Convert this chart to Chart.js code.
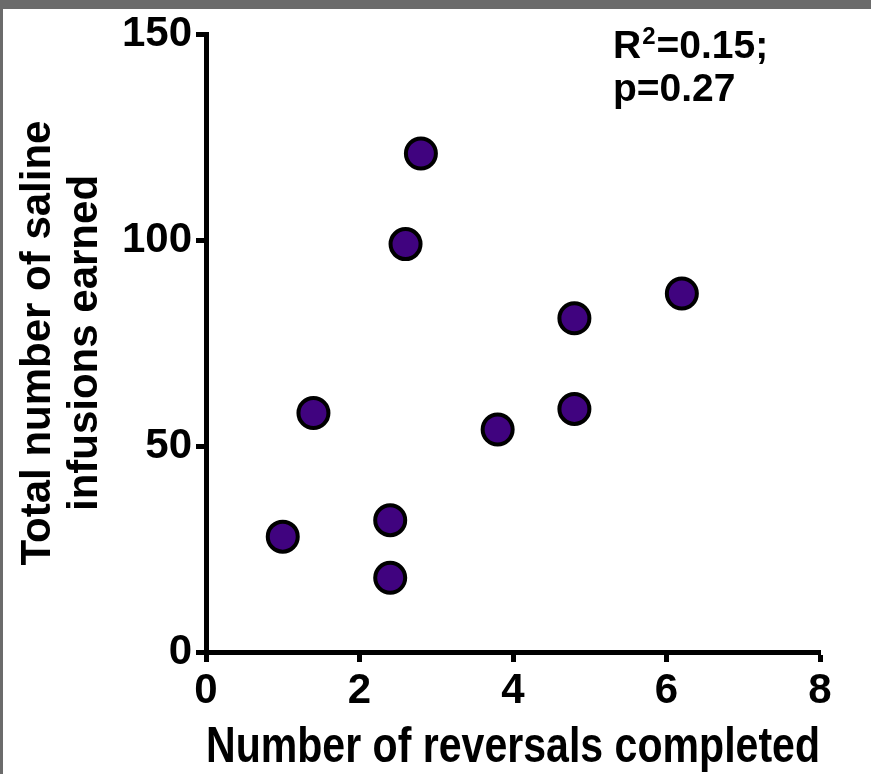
<!DOCTYPE html>
<html>
<head>
<meta charset="utf-8">
<script src="https://cdn.jsdelivr.net/npm/chart.js@4.4.1/dist/chart.umd.min.js"></script>
<style>
  html, body { margin: 0; padding: 0; background: #fff; }
  .frame { width: 868px; height: 765px; border-top: 9px solid #6b6b6b; border-left: 3px solid #6b6b6b; }
  .frame canvas { display: block; }
</style>
</head>
<body>
<div class="frame"><canvas id="scatter" width="868" height="765"></canvas></div>
<script>
// values
const reversals = [1.0, 1.4, 2.4, 2.4, 2.6, 2.8, 3.8, 4.8, 4.8, 6.2];
const infusions = [28, 58, 32, 18, 99, 121, 54, 81, 59, 87];
const xRange = [0, 8];
const yRange = [0, 150];
const xStep = 2;
const yStep = 50;
const xTitle = 'Number of reversals completed';
const yTitle = ['Total number of saline', 'infusions earned'];
const statR2 = '0.15';
const statP = '0.27';

const narrow = '"Liberation Sans Narrow", "Liberation Sans", Arial, sans-serif';
const wide = '"Liberation Sans", Arial, sans-serif';

// R^2 / p text in the top right corner
const statsLabel = {
  id: 'statsLabel',
  afterDraw(chart) {
    const ctx = chart.ctx;
    const x0 = chart.chartArea.right - 207;
    const y0 = chart.chartArea.top + 24;
    ctx.save();
    ctx.fillStyle = '#000';
    ctx.textBaseline = 'alphabetic';
    ctx.font = 'bold 39px ' + wide;
    ctx.fillText('R', x0, y0);
    let x = x0 + ctx.measureText('R').width;
    ctx.font = 'bold 24px ' + wide;
    ctx.fillText('2', x + 1, y0 - 14);
    x += ctx.measureText('2').width + 2;
    ctx.font = 'bold 39px ' + wide;
    ctx.fillText('=' + statR2 + ';', x, y0);
    ctx.fillText('p=' + statP, x0, y0 + 43);
    ctx.restore();
  }
};

const ctx = document.getElementById('scatter').getContext('2d');
const chart = new Chart(ctx, {
  type: 'scatter',
  data: {
    datasets: [{
      data: reversals.map((r, i) => ({ x: r, y: infusions[i] })),
      backgroundColor: '#40037f',
      borderColor: '#000',
      borderWidth: 4,
      pointRadius: 15,
      pointHoverRadius: 15,
    }],
  },
  options: {
    responsive: false,
    animation: false,
    layout: { padding: { top: 25, right: 51, left: 0, bottom: 0 } },
    plugins: { legend: { display: false }, tooltip: { enabled: false } },
    scales: {
      x: {
        type: 'linear',
        min: xRange[0],
        max: xRange[1],
        afterFit: (s) => { s.height = 122; },
        border: { display: true, color: '#000', width: 5 },
        grid: { drawOnChartArea: false, drawTicks: true, tickLength: 10, tickWidth: 5, tickColor: '#000' },
        ticks: { stepSize: xStep, color: '#000', padding: 8, font: { family: narrow, size: 42, weight: 'bold', lineHeight: 1 } },
        title: {
          display: true,
          text: xTitle,
          color: '#000',
          padding: { top: 0, bottom: 1 },
          font: { family: narrow, size: 50, weight: 'bold', lineHeight: 1.0 },
        },
      },
      y: {
        type: 'linear',
        min: yRange[0],
        max: yRange[1],
        afterFit: (s) => { s.width = 203; },
        border: { display: true, color: '#000', width: 5 },
        grid: { drawOnChartArea: false, drawTicks: true, tickLength: 10, tickWidth: 5, tickColor: '#000' },
        ticks: { stepSize: yStep, color: '#000', padding: 4, font: { family: narrow, size: 42, weight: 'bold', lineHeight: 1 } },
        title: {
          display: true,
          text: yTitle,
          color: '#000',
          padding: { top: 12, bottom: 0 },
          font: { family: wide, size: 42, weight: 'bold', lineHeight: 1.12 },
        },
      },
    },
  },
  plugins: [statsLabel],
});
</script>
</body>
</html>
